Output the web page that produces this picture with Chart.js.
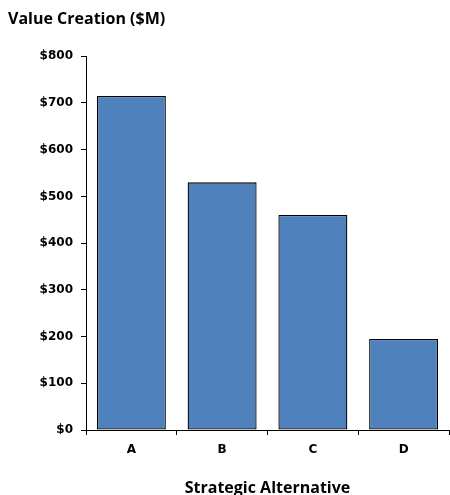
<!DOCTYPE html>
<html>
<head>
<meta charset="utf-8">
<script src="https://cdn.jsdelivr.net/npm/chart.js@4.4.0/dist/chart.umd.min.js"></script>
<style>
  html, body { margin: 0; padding: 0; background: #ffffff; }
  #wrap { width: 450px; height: 495px; position: relative; }
</style>
</head>
<body>
<div id="wrap"><canvas id="c" width="450" height="495"></canvas></div>
<script>
const categories = ['A', 'B', 'C', 'D'];
const values = [715, 530, 460, 195];
const chartTitle = 'Value Creation ($M)';
const xAxisTitle = 'Strategic Alternative';
const yMin = 0, yMax = 800, yStep = 100;

new Chart(document.getElementById('c'), {
  type: 'bar',
  data: {
    labels: categories,
    datasets: [{
      data: values,
      backgroundColor: '#4F81BD',
      borderColor: '#000000',
      borderWidth: 1.3,
      borderSkipped: false,
      barPercentage: 0.76,
      categoryPercentage: 1.0
    }]
  },
  options: {
    responsive: false,
    animation: false,
    devicePixelRatio: 1,
    layout: { padding: { left: 8, right: 1, top: 0, bottom: 0 } },
    plugins: {
      legend: { display: false },
      tooltip: { enabled: false },
      title: {
        display: true,
        text: chartTitle,
        align: 'start',
        color: '#000000',
        font: { family: 'Open Sans', size: 16, weight: 'bold' },
        padding: { top: 10, bottom: 27 }
      }
    },
    scales: {
      y: {
        min: yMin,
        max: yMax,
        afterFit: (s) => { s.width = 78; },
        ticks: {
          stepSize: yStep,
          color: '#000000',
          padding: 8,
          font: { family: 'DejaVu Sans', size: 12, weight: 'bold' },
          callback: (v) => '$' + v
        },
        grid: { display: true, drawOnChartArea: false, tickLength: 5, color: '#000000', lineWidth: 1 },
        border: { display: true, color: '#000000', width: 1 }
      },
      x: {
        afterFit: (s) => { s.height = 65; },
        ticks: {
          color: '#000000',
          padding: 8,
          font: { family: 'DejaVu Sans', size: 12, weight: 'bold' }
        },
        grid: { display: true, offset: true, drawOnChartArea: false, tickLength: 5, color: '#000000', lineWidth: 1 },
        border: { display: true, color: '#000000', width: 1 },
        title: {
          display: true,
          text: xAxisTitle,
          color: '#000000',
          font: { family: 'Open Sans', size: 16, weight: 'bold' },
          padding: { top: 0, bottom: -3 }
        }
      }
    }
  }
});
</script>
</body>
</html>
